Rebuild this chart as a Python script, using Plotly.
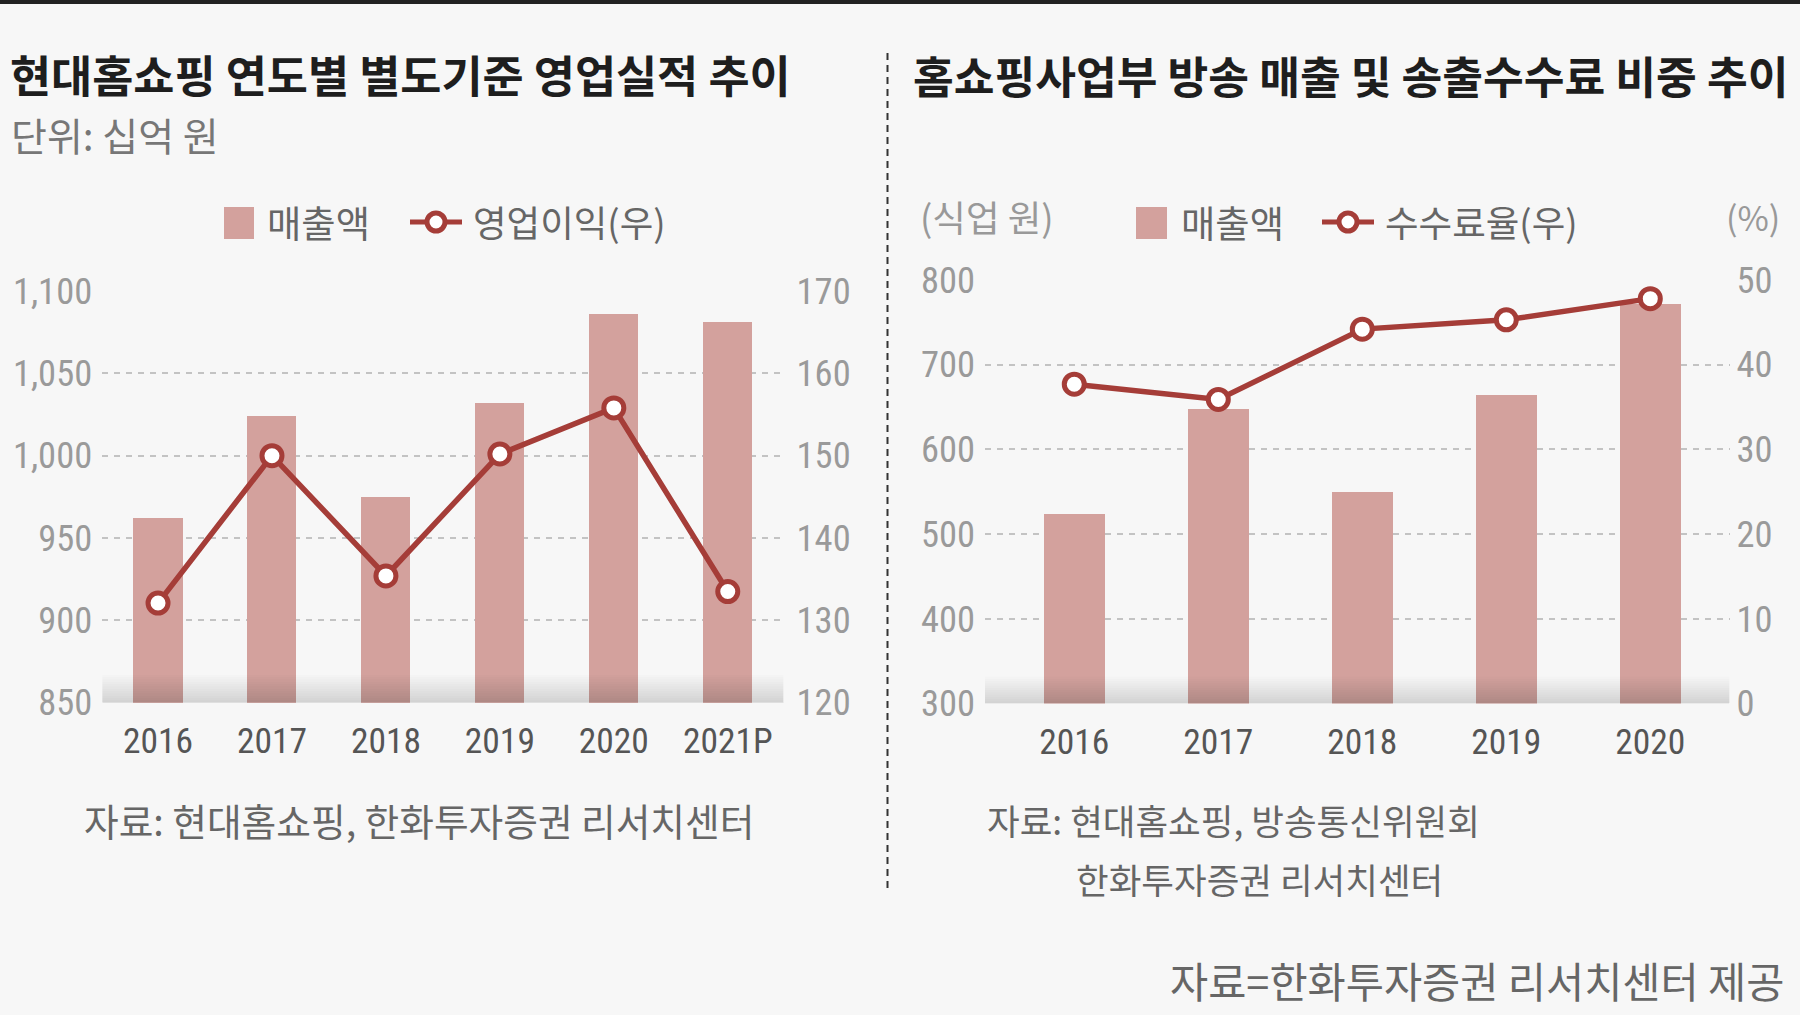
import plotly.graph_objects as go

# ---------------- data ----------------
years_left = ["2016", "2017", "2018", "2019", "2020", "2021P"]
sales_left = [962, 1024, 975, 1032, 1086, 1081]          # 매출액 (십억 원)
op_profit = [132.1, 150.0, 135.4, 150.2, 155.8, 133.5]   # 영업이익 (우)

years_right = ["2016", "2017", "2018", "2019", "2020"]
broadcast_sales = [524, 648, 550, 664, 772]               # 방송 매출 (십억 원)
fee_ratio = [37.7, 35.9, 44.2, 45.3, 47.8]                # 송출수수료율 (%)

# ---------------- style ----------------
W, H = 1800, 1015
BG = "#f7f7f7"
BAR = "#d3a19d"
LINE = "#a53d38"
NUM_FONT = "Roboto Condensed, Liberation Sans Narrow, Liberation Sans, Arial"
KR_FONT = "Noto Sans CJK KR, Noto Sans, sans-serif"
GRID = "#c3c3c3"


def px(x):
    return x / W


def py(y):
    return 1 - y / H


fig = go.Figure()

fig.add_trace(go.Bar(x=years_left, y=sales_left, marker=dict(color=BAR, line=dict(width=0)),
                     width=0.433, xaxis="x", yaxis="y", name="매출액", showlegend=False))
fig.add_trace(go.Scatter(x=years_left, y=op_profit, mode="lines+markers", xaxis="x", yaxis="y2",
                         line=dict(color=LINE, width=5.5),
                         marker=dict(size=20, color="white", line=dict(color=LINE, width=5)),
                         name="영업이익(우)", showlegend=False, cliponaxis=False))
fig.add_trace(go.Bar(x=years_right, y=broadcast_sales, marker=dict(color=BAR, line=dict(width=0)),
                     width=0.426, xaxis="x2", yaxis="y3", name="매출액", showlegend=False))
fig.add_trace(go.Scatter(x=years_right, y=fee_ratio, mode="lines+markers", xaxis="x2", yaxis="y4",
                         line=dict(color=LINE, width=5.5),
                         marker=dict(size=20, color="white", line=dict(color=LINE, width=5)),
                         name="수수료율(우)", showlegend=False, cliponaxis=False))

ytick_font = dict(family=NUM_FONT, size=36.5, color="#9a9a9a")
xtick_font = dict(family=NUM_FONT, size=35.5, color="#555555")

L_X = [px(102.2), px(783.6)]
L_Y = [py(702.7), py(291.0)]
R_X = [px(985.0), px(1729.5)]
R_Y = [py(703.5), py(280.0)]

common = dict(zeroline=False, showline=False, ticks="", automargin=False, fixedrange=True)

fig.update_layout(
    width=W, height=H,
    margin=dict(l=0, r=0, t=0, b=0, pad=0, autoexpand=False),
    paper_bgcolor=BG, plot_bgcolor=BG,
    bargap=0,
    xaxis=dict(domain=L_X, range=[-0.49, 5.49], type="category", showgrid=False,
               tickfont=xtick_font, ticklabelstandoff=14, anchor="y", **common),
    yaxis=dict(domain=L_Y, range=[850, 1100], dtick=50, tickformat=",d", showgrid=True,
               gridcolor=GRID, gridwidth=2, griddash="6px,6px",
               tickfont=ytick_font, ticklabelstandoff=9, anchor="x", **common),
    yaxis2=dict(range=[120, 170], dtick=10, overlaying="y", side="right", anchor="x",
                showgrid=False, tickfont=ytick_font, ticklabelstandoff=12, **common),
    xaxis2=dict(domain=R_X, range=[-0.62, 4.55], type="category", showgrid=False,
                tickfont=xtick_font, ticklabelstandoff=14, anchor="y3", **common),
    yaxis3=dict(domain=R_Y, range=[300, 800], dtick=100, showgrid=True, gridcolor=GRID,
                gridwidth=2, griddash="6px,6px",
                tickfont=ytick_font, ticklabelstandoff=9, anchor="x2", **common),
    yaxis4=dict(range=[0, 50], dtick=10, overlaying="y3", side="right", anchor="x2",
                showgrid=False, tickfont=ytick_font, ticklabelstandoff=6, **common),
)

shapes = []
# top border
shapes.append(dict(type="rect", xref="paper", yref="paper", x0=0, x1=1, y0=py(4), y1=1,
                   fillcolor="#222222", line=dict(width=0)))
# vertical divider
shapes.append(dict(type="line", xref="paper", yref="paper", x0=px(887.5), x1=px(887.5),
                   y0=py(53), y1=py(893), line=dict(color="#333333", width=2, dash="7px,5px")))

# bottom gradient bands
for xr, yr, h in (("x domain", "y domain", 28 / 411.7), ("x2 domain", "y3 domain", 27 / 423.5)):
    n = 12
    for k in range(1, n + 1):
        shapes.append(dict(type="rect", xref=xr, yref=yr, x0=0, x1=1, y0=0, y1=h * k / n,
                           fillcolor="rgba(0,0,0,0.0105)", line=dict(width=0), layer="above"))


def legend_bar(x0, x1, y0, y1):
    shapes.append(dict(type="rect", xref="paper", yref="paper", x0=px(x0), x1=px(x1),
                       y0=py(y1), y1=py(y0), fillcolor=BAR, line=dict(width=0)))


def legend_line(x0, x1, xc, yc):
    shapes.append(dict(type="line", xref="paper", yref="paper", x0=px(x0), x1=px(x1),
                       y0=py(yc), y1=py(yc), line=dict(color=LINE, width=5)))
    r = 9
    shapes.append(dict(type="circle", xref="paper", yref="paper", x0=px(xc - r), x1=px(xc + r),
                       y0=py(yc + r), y1=py(yc - r), fillcolor="white",
                       line=dict(color=LINE, width=5)))


legend_bar(224, 254, 207, 239)
legend_line(410, 462, 436, 222)
legend_bar(1136, 1167, 207, 239)
legend_line(1322, 1374, 1348, 222)

fig.update_layout(shapes=shapes)

annotations = []


def txt(text, x, y, size, color, xanchor="left", bold=False):
    annotations.append(dict(text=f"<b>{text}</b>" if bold else text, x=px(x), y=py(y),
                            xref="paper", yref="paper", xanchor=xanchor, yanchor="middle",
                            showarrow=False, font=dict(family=KR_FONT, size=size, color=color)))


txt("현대홈쇼핑 연도별 별도기준 영업실적 추이", 8, 73, 44.7, "#1e1e1e", bold=True)
txt("단위: 십억 원", 9, 134, 39, "#777777")
txt("매출액", 265, 222, 37.3, "#666666")
txt("영업이익(우)", 471, 222, 36.5, "#666666")

txt("홈쇼핑사업부 방송 매출 및 송출수수료 비중 추이", 911, 75, 44.3, "#1e1e1e", bold=True)
txt("(식업 원)", 918, 216, 36.5, "#999999")
txt("매출액", 1179, 222, 37.3, "#666666")
txt("수수료율(우)", 1383, 222, 36.5, "#666666")
txt("(%)", 1782, 216, 34, "#999999", xanchor="right")

txt("자료: 현대홈쇼핑, 한화투자증권 리서치센터", 82, 819, 37.7, "#666666")
txt("자료: 현대홈쇼핑, 방송통신위원회", 985, 819, 35.5, "#666666")
txt("한화투자증권 리서치센터", 1074, 878, 35.5, "#666666")
txt("자료=한화투자증권 리서치센터 제공", 1786, 980, 41.5, "#666666", xanchor="right")

fig.update_layout(annotations=annotations)

fig.write_html(
    "out.html",
    config={"displayModeBar": False},
    post_script="document.body.style.margin='0';document.body.style.overflow='hidden';",
)
